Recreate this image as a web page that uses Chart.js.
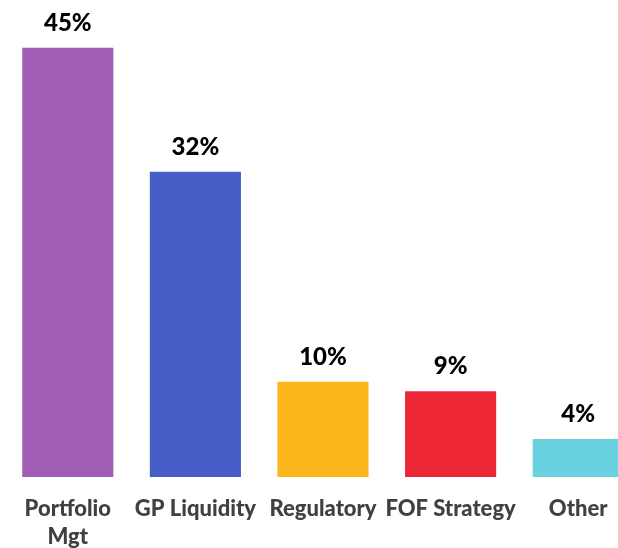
<!DOCTYPE html>
<html>
<head>
<meta charset="utf-8">
<script src="https://cdn.jsdelivr.net/npm/chart.js@4"></script>
<style>
    html, body { margin: 0; padding: 0; background: #fff; overflow: hidden; }
    #wrap { width: 618px; height: 548px; overflow: hidden; }
    #box { width: 642px; height: 569px; }
</style>
</head>
<body>
<div id="wrap"><div id="box"><canvas id="chart"></canvas></div></div>
<script>
const categories = [["Portfolio", "Mgt"], "GP Liquidity", "Regulatory", "FOF Strategy", "Other"];
const shares = [45, 32, 10, 9, 4];
const barColors = ["#A05EB5", "#475DC7", "#FDB61C", "#EE2737", "#69D1E0"];

// draws the "45%" style labels above each bar
const valueLabels = {
    id: "valueLabels",
    afterDatasetsDraw(chart) {
        const ctx = chart.ctx;
        const meta = chart.getDatasetMeta(0);
        ctx.save();
        ctx.font = "900 24px Lato";
        ctx.fillStyle = "#000";
        ctx.textAlign = "center";
        ctx.textBaseline = "alphabetic";
        meta.data.forEach((bar, i) => {
            ctx.fillText(shares[i] + "%", bar.x, bar.y - 17);
        });
        ctx.restore();
    }
};

const data = {
    labels: categories,
    datasets: [
        {
            data: shares,
            backgroundColor: barColors,
            categoryPercentage: 1,
            barPercentage: 0.714,
        },
    ],
};

const config = {
    type: "bar",
    data: data,
    plugins: [valueLabels],
    options: {
        responsive: true,
        maintainAspectRatio: false,
        animation: false,
        layout: { padding: { left: 4, right: 0, top: 0, bottom: 0 } },
        plugins: {
            legend: { display: false },
            tooltip: { enabled: false },
        },
        scales: {
            y: {
                display: false,
                min: 0,
                max: 50,
            },
            x: {
                grid: { display: false, drawTicks: false },
                border: { display: false },
                ticks: {
                    color: "#404040",
                    padding: 18,
                    font: { family: "Lato", size: 22, weight: "900", lineHeight: 1.27 },
                    maxRotation: 0,
                    autoSkip: false,
                },
            },
        },
    },
};

new Chart(document.getElementById("chart").getContext("2d"), config);
</script>
</body>
</html>
